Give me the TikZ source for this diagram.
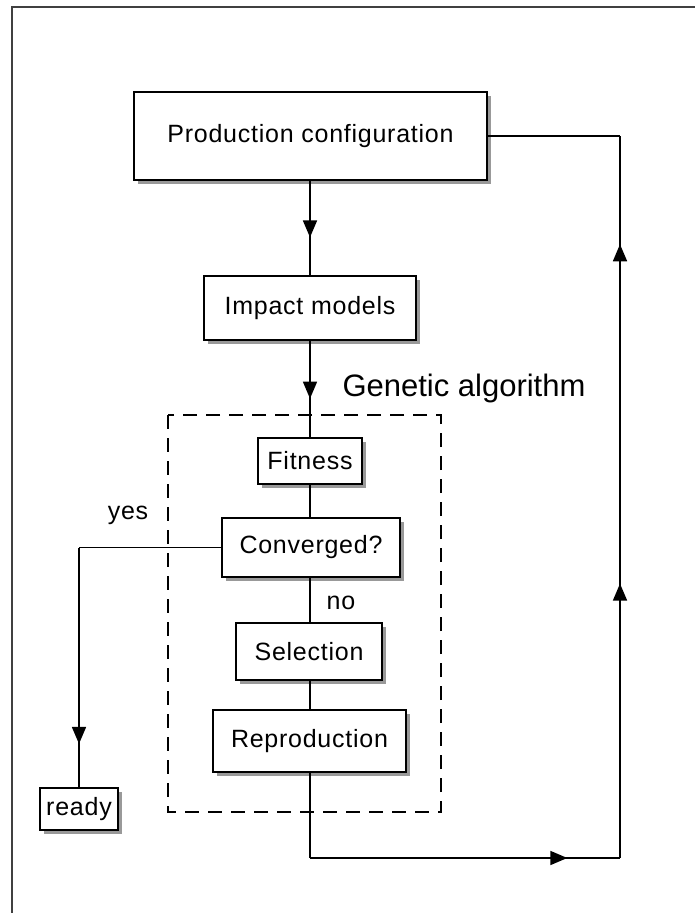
\documentclass[tikz,border=0pt]{standalone}
\usepackage{fontspec}
\setmainfont{Liberation Sans}
\usetikzlibrary{arrows.meta,decorations.markings,shadows}
\newcommand{\boxfont}{\fontsize{25}{30}\selectfont\addfontfeatures{LetterSpace=3}}
\begin{document}
\begin{tikzpicture}[x=1pt,y=-1pt,
  box/.style={draw=black,line width=2pt,fill=white,inner sep=0pt,
    font=\boxfont,
    drop shadow={shadow xshift=4pt,shadow yshift=-4pt,fill=black!40,opacity=1}},
  conn/.style={line width=1.7pt},
  marr/.style={postaction={decorate,decoration={markings,
    mark=at position #1 with {\arrow{Triangle[length=17pt,width=14pt]}}}}},
  lbl/.style={font=\boxfont,inner sep=0pt},
  frame/.style={line width=2.5pt,draw=black!75},
  gabox/.style={line width=2pt,dash pattern=on 14pt off 9pt}
]
\useasboundingbox (0,0) rectangle (695,913);
% outer frame
\draw[frame] (12,913) -- (12,7) -- (695,7);

% genetic algorithm region
\draw[gabox] (168,415) rectangle (441,812);
\node[inner sep=0pt,font=\fontsize{31}{36}\selectfont] (ga) at (464,388) {Genetic algorithm};

% boxes
\node[box,minimum width=353pt,minimum height=88pt] (prod) at (310.5,136) {Production configuration};
\node[box,minimum width=212pt,minimum height=64pt] (impact) at (310,308) {Impact models};
\node[box,minimum width=104pt,minimum height=46pt] (fit) at (310,461) {Fitness};
\node[box,minimum width=178pt,minimum height=59pt] (conv) at (311,547.5) {Converged?};
\node[box,minimum width=146pt,minimum height=57pt] (sel) at (309,651.5) {Selection};
\node[box,minimum width=193pt,minimum height=62pt] (rep) at (309.5,741) {Reproduction};
\node[box,minimum width=78pt,minimum height=42pt] (ready) at (79,809) {ready};

% labels
\node[lbl] (yes) at (128,515) {yes};
\node[lbl] (no) at (341,603) {no};

% helper coordinates
\coordinate (yc) at (conv.west -| ready.north);
\coordinate (c1) at (310,858);
\coordinate (c2) at (620,858);
\coordinate (c3) at (prod.east -| c2);

% connectors
\draw[conn,marr=0.60] (prod.south -| c1) -- (impact.north -| c1);
\draw[conn,marr=0.60] (impact.south -| c1) -- (fit.north -| c1);
\draw[conn] (fit.south -| c1) -- (conv.north -| c1);
\draw[conn] (conv.south -| c1) -- (sel.north -| c1);
\draw[conn] (sel.south -| c1) -- (rep.north -| c1);
\draw[conn] (conv.west) -- (yc);
\draw[conn,marr=0.82] (yc) -- (ready.north);
\draw[conn] (rep.south -| c1) -- (c1);
\draw[conn,marr=0.83] (c1) -- (c2);
\draw[conn,marr=0.38,marr=0.85] (c2) -- (c3);
\draw[conn] (c3) -- (prod.east);
\end{tikzpicture}
\end{document}
